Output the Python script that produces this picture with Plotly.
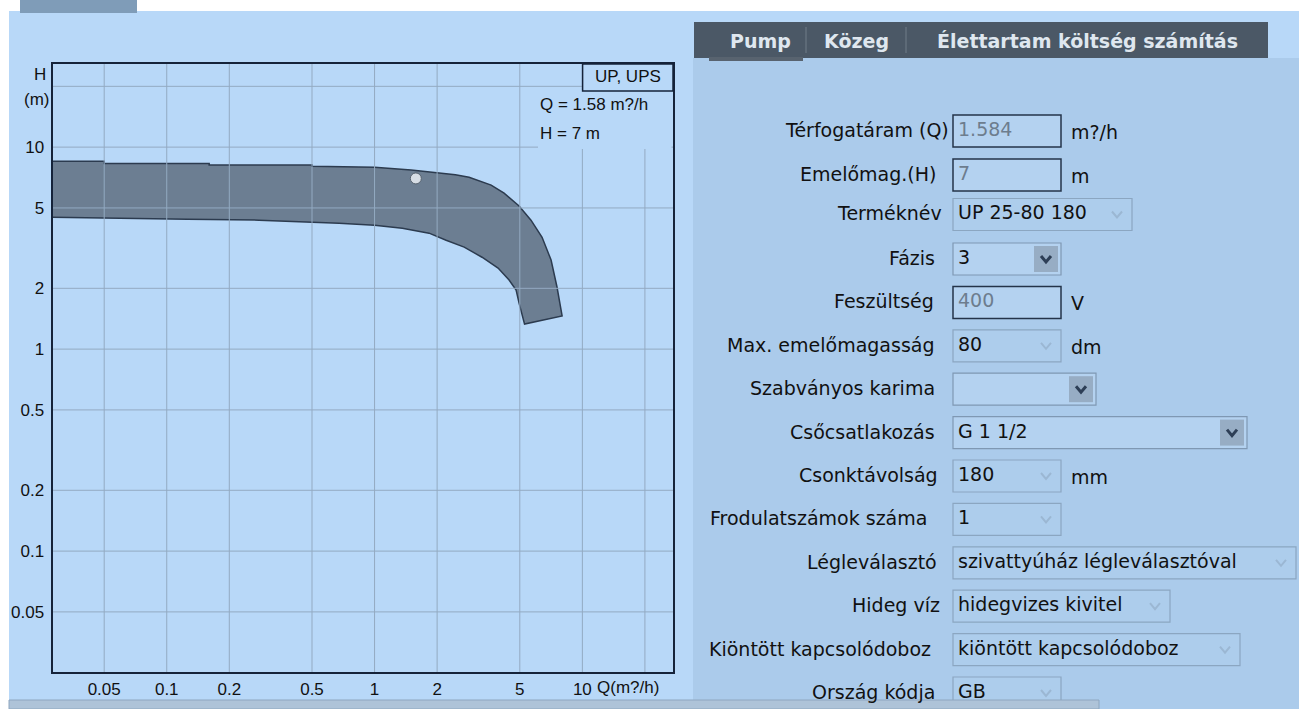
import math
import plotly.graph_objects as go

W, H = 1299, 709

# ---------------- data ----------------
upper_q = [0.0282, 0.05, 0.05, 0.16, 0.16, 0.5, 0.5, 1.0, 1.5, 1.95, 2.45, 2.85, 3.64, 4.2, 4.96, 5.66, 6.4, 7.07, 7.55, 7.99]
upper_h = [8.52, 8.52, 8.31, 8.31, 8.15, 8.15, 8.05, 7.95, 7.7, 7.5, 7.3, 7.1, 6.49, 5.92, 5.11, 4.35, 3.58, 2.76, 2.03, 1.46]
lower_q = [0.0282, 0.0616, 0.126, 0.278, 0.458, 0.675, 1.0, 1.36, 1.83, 2.21, 2.70, 3.29, 3.93, 4.44, 4.80, 4.96, 5.27]
lower_h = [4.50, 4.45, 4.40, 4.35, 4.25, 4.20, 4.11, 3.97, 3.75, 3.46, 3.20, 2.85, 2.52, 2.20, 1.96, 1.69, 1.33]

op_q = 1.58
op_h = 7

q_tickvals = [0.05, 0.1, 0.2, 0.5, 1, 2, 5, 10]
q_ticktext = ["0.05", "0.1", "0.2", "0.5", "1", "2", "5", "10"]
h_tickvals = [10, 5, 2, 1, 0.5, 0.2, 0.1, 0.05]
h_ticktext = ["10", "5", "2", "1", "0.5", "0.2", "0.1", "0.05"]
q_grid = [0.05, 0.1, 0.2, 0.5, 1, 2, 5, 10, 20]
h_grid = [20, 10, 5, 2, 1, 0.5, 0.2, 0.1, 0.05]
q_range = [0.0282, 27.3]
h_range = [0.0252, 25.8]

series_name = "UP, UPS"
q_unit = "m?/h"
q_axis_title = "Q(m?/h)"
h_axis_title = ["H", "(m)"]

tabs = ["Pump", "Közeg", "Élettartam költség számítás"]
form_labels = ["Térfogatáram (Q)", "Emelőmag.(H)", "Terméknév", "Fázis", "Feszültség",
               "Max. emelőmagasság", "Szabványos karima", "Csőcsatlakozás", "Csonktávolság",
               "Frodulatszámok száma", "Légleválasztó", "Hideg víz", "Kiöntött kapcsolódoboz",
               "Ország kódja"]
form_values = ["1.584", "7", "UP 25-80 180", "3", "400", "80", "", "G 1 1/2", "180", "1",
               "szivattyúház légleválasztóval", "hidegvizes kivitel", "kiöntött kapcsolódoboz", "GB"]
form_units = ["m?/h", "m", "", "", "V", "dm", "", "", "mm", "", "", "", "", ""]

# ---------------- styles / layout ----------------
BG = "#b8d8f8"
PANEL = "#abcbeb"
DARK = "#15233a"
CHART_FONT = "Liberation Sans, Arial, sans-serif"
FORM_FONT = "DejaVu Sans, Verdana, sans-serif"
FORM_SIZE = 19
CHART_SIZE = 17

row_y = [131, 175, 214.5, 259, 302.4, 345.8, 389.2, 432.6, 476, 519.4, 562.8, 606.2, 649.6, 693]
row_kind = ["input", "input", "dis", "act", "input", "dis", "act", "act", "dis", "dis", "dis", "dis", "dis", "dis"]
row_x1 = [1061, 1061, 1132, 1061, 1061, 1061, 1096, 1247, 1061, 1061, 1296, 1170, 1240, 1061]
label_right = [951, 938, 944, 937, 936, 937, 937, 937, 940, 929, 939, 942, 933, 937]
BOX_X0 = 953
UNIT_X = 1069


def px(x):
    return x / W


def py(y):
    return 1 - y / H


shapes = []
annotations = []


def rect(x0, y0, x1, y1, fill, line=None, lw=0, layer="above"):
    shapes.append(dict(type="rect", xref="paper", yref="paper",
                       x0=px(x0), x1=px(x1), y0=py(y1), y1=py(y0),
                       fillcolor=fill, line=dict(color=line or fill, width=lw),
                       layer=layer))


def text(x, y, s, size, color="#111111", font=FORM_FONT, xanchor="left", bold=False):
    if bold:
        s = "<b>" + s + "</b>"
    annotations.append(dict(x=px(x), y=py(y), xref="paper", yref="paper", text=s,
                            showarrow=False, xanchor=xanchor, yanchor="middle",
                            font=dict(family=font, size=size, color=color)))


def chevron(cx, cy, color, w=2.5):
    shapes.append(dict(type="path", xref="paper", yref="paper",
                       path=f"M {px(cx-5)},{py(cy-3)} L {px(cx)},{py(cy+3)} L {px(cx+5)},{py(cy-3)}",
                       line=dict(color=color, width=w)))


# page backgrounds
rect(9, 11, W, H, BG, layer="below")
rect(693, 58, W, H, PANEL, layer="below")
rect(20, 0, 137, 13, "#7f9cb8", layer="below")

# tab header
rect(694, 22, 1268, 58, "#4b5866", layer="below")
rect(709, 57, 803, 61, "#58636f", layer="below")
for sx in (806, 906):
    shapes.append(dict(type="line", xref="paper", yref="paper", x0=px(sx), x1=px(sx),
                       y0=py(27), y1=py(53), line=dict(color="#707c88", width=1)))
tab_cx = [760, 856, 1087]
for t, cx in zip(tabs, tab_cx):
    text(cx, 41, t, 19, color="#dfe7ef", xanchor="center", bold=True)

# form rows
for i, lab in enumerate(form_labels):
    cy = row_y[i]
    y0, y1 = cy - 16, cy + 16
    kind = row_kind[i]
    x1 = row_x1[i]
    if kind == "input":
        rect(BOX_X0, y0, x1, y1, "#b4d2f0", "#24344a", 1.5)
        vcol = "#6d7d8e"
    elif kind == "act":
        rect(BOX_X0, y0, x1, y1, "#b4d2f0", "#7f98b3", 1.2)
        rect(x1 - 27, y0 + 3, x1 - 3, y1 - 3, "#97adc4", "#97adc4", 0)
        chevron(x1 - 15, cy, "#2e3f56", 3)
        vcol = "#111111"
    else:
        rect(BOX_X0, y0, x1, y1, "#adcdec", "#8ba6c1", 1.2)
        chevron(x1 - 15, cy, "#9bb7d3", 2)
        vcol = "#111111"
    text(label_right[i], cy - 1, lab, FORM_SIZE, color="#111111", xanchor="right")
    if form_values[i]:
        text(BOX_X0 + 3, cy - 2, form_values[i], FORM_SIZE, color=vcol)
    if form_units[i]:
        text(UNIT_X, cy + 1, form_units[i], FORM_SIZE, color="#111111")

# bottom scrollbar
rect(9, 700, 1099, H, "#aec3d8", "#8ea6bf", 1)

# chart boxes (above traces)
rect(538, 90, 671.5, 149, BG, layer="above")
rect(582.6, 64, 673, 91, BG, DARK, 1.5, layer="above")
text(628, 76, series_name, CHART_SIZE, font=CHART_FONT, xanchor="center")
text(538, 104, f"Q = {op_q} {q_unit}", CHART_SIZE, font=CHART_FONT)
text(538, 133, f"H = {op_h} m", CHART_SIZE, font=CHART_FONT)
text(48, 74, h_axis_title[0], CHART_SIZE, font=CHART_FONT, xanchor="right")
text(51, 99, h_axis_title[1], CHART_SIZE, font=CHART_FONT, xanchor="right")
text(595, 687, q_axis_title, CHART_SIZE, font=CHART_FONT)

# ---------------- traces ----------------
poly_q = upper_q + lower_q[::-1]
poly_h = upper_h + lower_h[::-1]

grid_x, grid_y = [], []
for q in q_grid:
    grid_x += [q, q, None]
    grid_y += [h_range[0], h_range[1], None]
for h in h_grid:
    grid_x += [q_range[0], q_range[1], None]
    grid_y += [h, h, None]

fig = go.Figure()
fig.add_trace(go.Scatter(x=poly_q, y=poly_h, mode="lines", fill="toself",
                         fillcolor="#6c7e92", line=dict(color="#2c3b4f", width=1.5),
                         hoverinfo="skip"))
fig.add_trace(go.Scatter(x=grid_x, y=grid_y, mode="lines",
                         line=dict(color="#93aac2", width=1), hoverinfo="skip"))
fig.add_trace(go.Scatter(x=[op_q], y=[op_h], mode="markers",
                         marker=dict(size=11, color="#d6dde5", line=dict(color="#56626f", width=1)),
                         hoverinfo="skip"))

axis_common = dict(type="log", showgrid=False, zeroline=False, showline=True, mirror=True,
                   linecolor=DARK, linewidth=2, ticks="outside",
                   tickcolor="rgba(0,0,0,0)", layer="above traces",
                   tickfont=dict(family=CHART_FONT, size=CHART_SIZE, color="#111111"))

fig.update_layout(
    width=W, height=H, margin=dict(l=0, r=0, t=0, b=0),
    paper_bgcolor="white", plot_bgcolor=BG, showlegend=False,
    xaxis=dict(domain=[52.5 / W, 673 / W],
               range=[math.log10(q_range[0]), math.log10(q_range[1])],
               tickvals=q_tickvals, ticktext=q_ticktext, ticklen=1, **axis_common),
    yaxis=dict(domain=[1 - 672 / H, 1 - 64 / H],
               range=[math.log10(h_range[0]), math.log10(h_range[1])],
               tickvals=h_tickvals, ticktext=h_ticktext, ticklen=3, **axis_common),
    shapes=shapes, annotations=annotations,
)

fig.write_html("out.html", config={"displayModeBar": False},
               post_script="document.body.style.margin='0px';")
